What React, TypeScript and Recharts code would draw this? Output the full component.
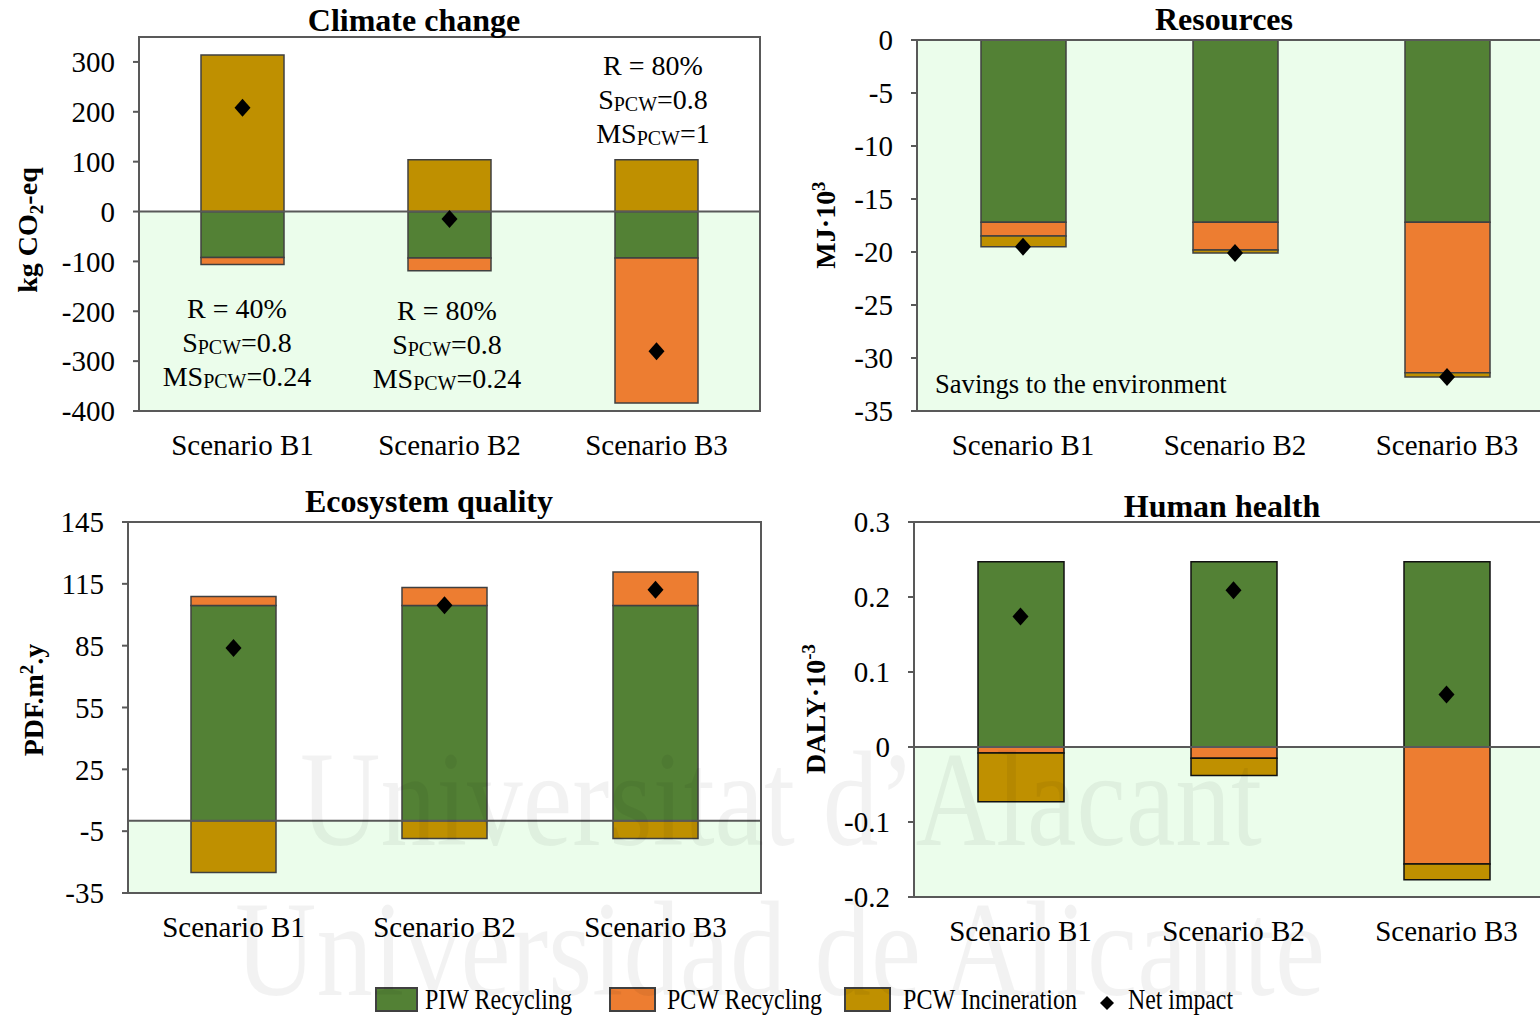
import React from 'react'
import { ComposedChart, Bar, Line, XAxis, YAxis, ReferenceArea, ReferenceLine } from 'recharts'

const FONT = "'Liberation Serif', 'Times New Roman', serif"
const GREEN = '#538135'
const ORANGE = '#ED7D31'
const GOLD = '#BF9000'
const SAVE_BG = '#ebfdeb'
const AXIS = '#595959'

const scenarios = ['Scenario B1', 'Scenario B2', 'Scenario B3']

// Climate change (kg CO2-eq)
const ccPiw = [-92, -93, -93]
const ccPcwRec = [-14, -26, -291]
const ccPcwInc = [314, 104, 104]
const ccNet = [208, -15, -280]
const ccTicks = [-400, -300, -200, -100, 0, 100, 200, 300]

// Resources (MJ·10³)
const resPiw = [-17.2, -17.2, -17.2]
const resPcwRec = [-1.3, -2.6, -14.2]
const resPcwInc = [-1.0, -0.3, -0.4]
const resNet = [-19.5, -20.1, -31.8]
const resTicks = [-35, -30, -25, -20, -15, -10, -5, 0]

// Ecosystem quality (PDF.m².y)
const eqPiw = [104.5, 104.5, 104.5]
const eqPcwRec = [4.4, 8.7, 16.2]
const eqPcwInc = [-25, -8.6, -8.6]
const eqNet = [83.9, 104.6, 112.1]
const eqTicks = [-35, -5, 25, 55, 85, 115, 145]

// Human health (DALY·10⁻³)
const hhPiw = [0.247, 0.247, 0.247]
const hhPcwRec = [-0.008, -0.015, -0.156]
const hhPcwInc = [-0.065, -0.023, -0.021]
const hhNet = [0.174, 0.209, 0.07]
const hhTicks = [-0.2, -0.1, 0, 0.1, 0.2, 0.3]

function rows(piw, rec, inc, net) {
  return scenarios.map((name, i) => ({ name, piw: piw[i], rec: rec[i], inc: inc[i], net: net[i] }))
}

const XH = 50

function XTick(props: any) {
  const { x, y, payload } = props
  return (
    <text x={x} y={y + 44} textAnchor="middle" fontSize={29} fill="#000" fontFamily={FONT}>
      {payload.value}
    </text>
  )
}

function diamond(p: any) {
  const { cx, cy, index } = p
  if (cx == null || cy == null) return <g key={'d' + index} />
  return <path key={'d' + index} d={`M${cx},${cy - 9} L${cx + 8},${cy} L${cx},${cy + 9} L${cx - 8},${cy} Z`} fill="#000" />
}

function Panel({ left, top, width, height, plot, data, domain, ticks, barSize, stroke }: any) {
  const margin = {
    top: plot.y,
    left: 0,
    right: width - plot.x - plot.w,
    bottom: height - plot.y - plot.h - XH,
  }
  return (
    <div style={{ position: 'absolute', left, top, width, height }}>
      <ComposedChart width={width} height={height} data={data} margin={margin} stackOffset="sign" barGap={0}>
        <XAxis dataKey="name" height={XH} axisLine={false} tickLine={false} tickSize={0} tickMargin={0} interval={0} tick={<XTick />} />
        <YAxis
          width={plot.x}
          type="number"
          domain={domain}
          ticks={ticks}
          allowDataOverflow
          tickSize={6}
          tickMargin={18}
          axisLine={{ stroke: AXIS, strokeWidth: 2 }}
          tickLine={{ stroke: AXIS, strokeWidth: 2 }}
          tick={{ fontSize: 29, fill: '#000', fontFamily: FONT }}
        />
        <ReferenceArea y1={domain[0]} y2={Math.min(0, domain[1])} fill={SAVE_BG} fillOpacity={1} stroke="none" />
        <Bar dataKey="piw" stackId="s" fill={GREEN} stroke={stroke} strokeWidth={1.5} barSize={barSize} isAnimationActive={false} />
        <Bar dataKey="rec" stackId="s" fill={ORANGE} stroke={stroke} strokeWidth={1.5} barSize={barSize} isAnimationActive={false} />
        <Bar dataKey="inc" stackId="s" fill={GOLD} stroke={stroke} strokeWidth={1.5} barSize={barSize} isAnimationActive={false} />
        <ReferenceLine y={0} stroke={AXIS} strokeWidth={2} />
        <Line dataKey="net" stroke="none" dot={diamond} activeDot={false} isAnimationActive={false} />
        <ReferenceArea y1={domain[0]} y2={domain[1]} fill="none" stroke={AXIS} strokeWidth={2} />
      </ComposedChart>
    </div>
  )
}

function Sub({ main, sub, rest }: any) {
  return (
    <>
      {main}
      <tspan fontSize={20} dy={2}>{sub}</tspan>
      <tspan dy={-2}>{rest}</tspan>
    </>
  )
}

function Note({ x, y, r, s, ms }: any) {
  return (
    <g fontSize={28} textAnchor="middle">
      <text x={x} y={y}>{r}</text>
      <text x={x} y={y + 34}><Sub main="S" sub="PCW" rest={'=' + s} /></text>
      <text x={x} y={y + 68}><Sub main="MS" sub="PCW" rest={'=' + ms} /></text>
    </g>
  )
}

export default function App() {
  return (
    <div style={{ position: 'absolute', left: 0, top: 0, width: 1540, height: 1017, overflow: 'hidden', background: '#fff', fontFamily: FONT }}>
      <Panel left={0} top={0} width={780} height={475} plot={{ x: 139, y: 37, w: 621, h: 374 }}
        data={rows(ccPiw, ccPcwRec, ccPcwInc, ccNet)} domain={[-400, 350]} ticks={ccTicks} barSize={83} stroke="#404040" />
      <Panel left={780} top={0} width={780} height={475} plot={{ x: 137, y: 40, w: 636, h: 371 }}
        data={rows(resPiw, resPcwRec, resPcwInc, resNet)} domain={[-35, 0]} ticks={resTicks} barSize={85} stroke="#404040" />
      <Panel left={0} top={480} width={780} height={475} plot={{ x: 128, y: 42, w: 633, h: 371 }}
        data={rows(eqPiw, eqPcwRec, eqPcwInc, eqNet)} domain={[-35, 145]} ticks={eqTicks} barSize={85} stroke="#404040" />
      <Panel left={780} top={480} width={780} height={475} plot={{ x: 134, y: 42, w: 639, h: 375 }}
        data={rows(hhPiw, hhPcwRec, hhPcwInc, hhNet)} domain={[-0.2, 0.3]} ticks={hhTicks} barSize={86} stroke="#111" />

      <svg width={1540} height={1017} style={{ position: 'absolute', left: 0, top: 0, pointerEvents: 'none' }} fontFamily={FONT}>
        {/* titles */}
        <g fontSize={32} fontWeight="bold" textAnchor="middle" fill="#000">
          <text x={414} y={31}>Climate change</text>
          <text x={1224} y={30}>Resources</text>
          <text x={429} y={512}>Ecosystem quality</text>
          <text x={1222} y={517}>Human health</text>
        </g>
        {/* axis titles */}
        <g fontSize={28} fontWeight="bold" textAnchor="middle" fill="#000">
          <text transform="translate(37,230) rotate(-90)">
            kg CO<tspan fontSize={19} dy={6}>2</tspan><tspan dy={-6}>-eq</tspan>
          </text>
          <text transform="translate(835,225) rotate(-90)">
            MJ·10<tspan fontSize={19} dy={-10}>3</tspan>
          </text>
          <text transform="translate(43,700) rotate(-90)">
            PDF.m<tspan fontSize={19} dy={-10}>2</tspan><tspan dy={10}>.y</tspan>
          </text>
          <text transform="translate(825,709) rotate(-90)">
            DALY·10<tspan fontSize={19} dy={-10}>-3</tspan>
          </text>
        </g>
        {/* scenario notes */}
        <Note x={237} y={318} r="R = 40%" s="0.8" ms="0.24" />
        <Note x={447} y={320} r="R = 80%" s="0.8" ms="0.24" />
        <Note x={653} y={75} r="R = 80%" s="0.8" ms="1" />
        <text x={935} y={393} fontSize={26.6}>Savings to the environment</text>
        {/* legend */}
        <g fontSize={29}>
          <rect x={376} y={988} width={41} height={23} fill={GREEN} stroke="#404040" strokeWidth={2} />
          <text x={425} y={1009} textLength={147} lengthAdjust="spacingAndGlyphs">PIW Recycling</text>
          <rect x={610} y={988} width={45} height={23} fill={ORANGE} stroke="#404040" strokeWidth={2} />
          <text x={667} y={1009} textLength={155} lengthAdjust="spacingAndGlyphs">PCW Recycling</text>
          <rect x={845} y={988} width={45} height={23} fill={GOLD} stroke="#404040" strokeWidth={2} />
          <text x={903} y={1009} textLength={174} lengthAdjust="spacingAndGlyphs">PCW Incineration</text>
          <path d="M1107,996 L1114,1003 L1107,1010 L1100,1003 Z" fill="#000" />
          <text x={1128} y={1009} textLength={105} lengthAdjust="spacingAndGlyphs">Net impact</text>
        </g>
        {/* watermark */}
        <g fill="#000" fillOpacity={0.05} fontSize={136}>
          <text x={300} y={845} textLength={962} lengthAdjust="spacingAndGlyphs">Universitat d’Alacant</text>
          <text x={235} y={995} textLength={1090} lengthAdjust="spacingAndGlyphs">Universidad de Alicante</text>
        </g>
      </svg>
    </div>
  )
}
